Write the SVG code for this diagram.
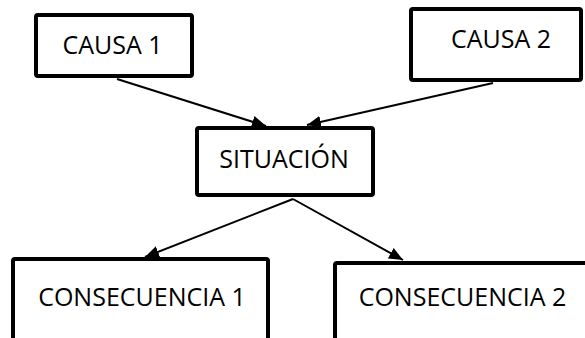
<svg xmlns="http://www.w3.org/2000/svg" width="585" height="338" viewBox="0 0 585 338">
<style>
.box{fill:#fff;stroke:#000;stroke-width:4}
.lbl{font-family:"Open Sans","Noto Sans",sans-serif;font-size:25px;fill:#000;text-anchor:middle}
.edge{stroke:#000;stroke-width:2;fill:none;marker-end:url(#ah)}
</style>
<defs>
<marker id="ah" markerUnits="userSpaceOnUse" markerWidth="14" markerHeight="12" refX="14" refY="6" orient="auto">
<path d="M0,0 L14,6 L0,12 z" fill="#000"/>
</marker>
</defs>
<rect width="585" height="338" fill="#fff"/>
<g id="connectors">
<line class="edge" x1="117" y1="79" x2="266" y2="126"/>
<line class="edge" x1="493" y1="83" x2="307" y2="125"/>
<line class="edge" x1="293" y1="199" x2="145" y2="257"/>
<line class="edge" x1="293" y1="199" x2="403" y2="260"/>
</g>
<g id="causa1">
<rect class="box" x="36" y="15" width="156" height="61" rx="2"/>
<text class="lbl" x="112.5" y="54">CAUSA 1</text>
</g>
<g id="causa2">
<rect class="box" x="411" y="9" width="170" height="71" rx="2"/>
<text class="lbl" x="501" y="48">CAUSA 2</text>
</g>
<g id="situacion">
<rect class="box" x="197" y="128" width="176" height="67" rx="2"/>
<text class="lbl" x="284" y="168">SITUACIÓN</text>
</g>
<g id="consecuencia1">
<rect class="box" x="13" y="259" width="255" height="100" rx="2"/>
<text class="lbl" x="142" y="306">CONSECUENCIA 1</text>
</g>
<g id="consecuencia2">
<rect class="box" x="335" y="263" width="260" height="100" rx="2"/>
<text class="lbl" x="462.5" y="306">CONSECUENCIA 2</text>
</g>
</svg>
